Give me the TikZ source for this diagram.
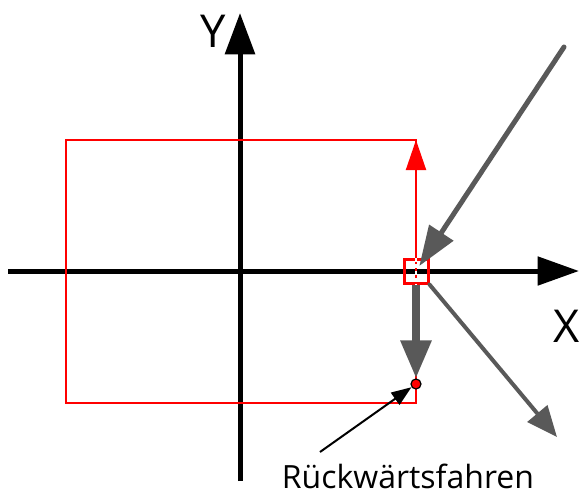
\documentclass[tikz,border=0pt]{standalone}
\usepackage{fontspec}
\setmainfont{Open Sans}
\usetikzlibrary{arrows.meta, positioning}

\definecolor{arrowgray}{HTML}{595959}

\tikzset{
  axis/.style={line width=3.75pt, black},
  frame/.style={draw=red, line width=1.5pt},
  move/.style={arrowgray, line cap=round}
}

\begin{document}
\begin{tikzpicture}[x=0.75pt, y=-0.75pt, >=Triangle]
    \useasboundingbox (0,0) rectangle (586,497);

    % Axes
    \coordinate (xstart) at (8,271);
    \coordinate (xend) at (579,271);
    \coordinate (ystart) at (240,481);
    \coordinate (yend) at (240,13);
    \draw[axis, -{Triangle[length=31pt, width=21pt]}] (xstart) -- (xend);
    \draw[axis, -{Triangle[length=31pt, width=22pt]}] (ystart) -- (yend);
    \node[font=\fontsize{34}{36}\selectfont] (ylabel) at (213,31) {Y};
    \node[font=\fontsize{34}{36}\selectfont] (xlabel) at (567,326) {X};

    % Red frame
    \coordinate (nw) at (66,140);
    \coordinate (ne) at (416,140);
    \coordinate (se) at (416,403);
    \draw[frame] (nw) rectangle (se);

    % Target square and point
    \node[frame, line width=2.25pt, minimum size=18pt, inner sep=0pt] (target) at (416,271) {};
    \draw[white, line width=1.5pt, dash pattern=on 3pt off 2pt] (target.north) -- (target.south);
    \node[circle, draw=black, fill=red, line width=0.9pt, minimum size=7.5pt, inner sep=0pt] (dot) at (416,384) {};

    % Red arrow up
    \draw[red, line width=1.5pt, -{Triangle[length=22.5pt, width=15pt]}] (target.north) -- (ne);

    % Gray arrows
    \coordinate (incoming) at (564,47);
    \coordinate (outgoing) at (557,437);
    \draw[move, line width=3.75pt, -{Triangle[length=30pt, width=21pt]}, shorten >=4.5pt] (incoming) -- (target.center);
    \draw[move, line width=3pt, -{Triangle[length=23pt, width=19pt]}] (target.south east) -- (outgoing);
    \draw[arrowgray, line width=6pt, -{Triangle[length=28.5pt, width=22pt]}] (target.south) -- (dot.north);

    % Label
    \node[font=\fontsize{24}{26}\selectfont, anchor=base, inner sep=0pt] (label) at (408,488) {Rückwärtsfahren};
    \coordinate (labelstart) at (320,452);
    \draw[black, line width=1.5pt, -{Triangle[length=15pt, width=11pt]}] (labelstart) -- (dot);

\end{tikzpicture}
\end{document}
